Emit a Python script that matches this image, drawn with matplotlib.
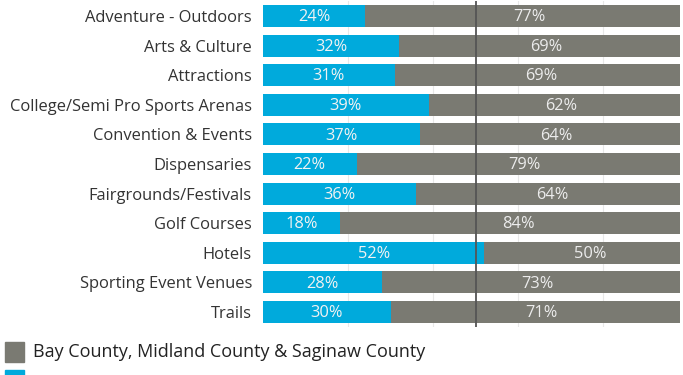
import matplotlib
matplotlib.use("Agg")
import matplotlib.pyplot as plt
from matplotlib.patches import Rectangle

categories = ["Adventure - Outdoors", "Arts & Culture", "Attractions",
              "College/Semi Pro Sports Arenas", "Convention & Events",
              "Dispensaries", "Fairgrounds/Festivals", "Golf Courses",
              "Hotels", "Sporting Event Venues", "Trails"]
blue_vals = [24, 32, 31, 39, 37, 22, 36, 18, 52, 28, 30]
gray_vals = [77, 69, 69, 62, 64, 79, 64, 84, 50, 73, 71]
legend_gray = "Bay County, Midland County & Saginaw County"

BLUE = "#00AADC"
GRAY = "#7A7A72"
FONT = "Open Sans"

W, H = 683, 375
fig = plt.figure(figsize=(W / 100, H / 100), dpi=100)
left, right = 263 / W, 680 / W
top_px, bot_px = 1.2, 326.8
ax = fig.add_axes([left, 1 - bot_px / H, right - left, (bot_px - top_px) / H])

y = list(range(len(categories)))
ax.barh(y, blue_vals, height=0.74, color=BLUE, zorder=2)
ax.barh(y, gray_vals, left=blue_vals, height=0.74, color=GRAY, zorder=2)

for i, (b, g) in enumerate(zip(blue_vals, gray_vals)):
    ax.text(b / 2, i + 0.04, f"{b}%", ha="center", va="center", color="#f2f2f2",
            fontsize=11.8, family=FONT, zorder=3)
    ax.text(b + g / 2, i + 0.04, f"{g}%", ha="center", va="center", color="#ececec",
            fontsize=11.8, family=FONT, zorder=3)

for gx in [20, 40, 60, 80]:
    ax.axvline(gx, color="#e8e8e8", lw=0.8, zorder=1)
ax.axvline(50, color="#555555", lw=1.3, zorder=4)

ax.set_xlim(0, 98)
ax.set_ylim(len(categories) - 0.5, -0.5)
ax.set_yticks(y)
ax.set_yticklabels(categories, fontsize=11.9, family=FONT, color="#333333")
ax.tick_params(axis="y", length=0, pad=8)
ax.set_xticks([])
for s in ax.spines.values():
    s.set_visible(False)

# legend (manual, at bottom-left)
fig.patches.append(Rectangle((5 / W, 1 - 362 / H), 19 / W, 20 / H,
                             transform=fig.transFigure, color=GRAY))
fig.text(33 / W, 1 - 352 / H, legend_gray, ha="left", va="center",
         fontsize=13, family=FONT, color="#222222")
fig.patches.append(Rectangle((5 / W, 1 - 380 / H), 19 / W, 10 / H,
                             transform=fig.transFigure, color=BLUE))

fig.savefig("out.png", dpi=100)
